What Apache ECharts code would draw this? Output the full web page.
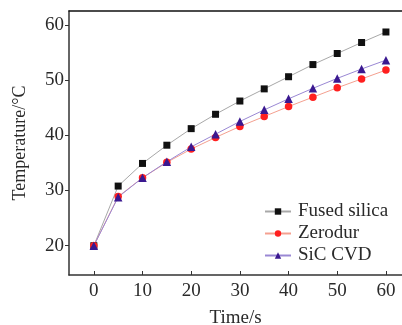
<!DOCTYPE html>
<html><head><meta charset="utf-8">
<script src="https://cdn.jsdelivr.net/npm/echarts@6/dist/echarts.min.js"></script>
<style>html,body{margin:0;padding:0;background:#fff}#c{width:402px;height:325px}</style>
</head><body><div id="c"></div>
<script>
const times = [0,5,10,15,20,25,30,35,40,45,50,55,60];
const fusedSilica = [20,30.8,34.9,38.2,41.2,43.8,46.2,48.4,50.6,52.8,54.8,56.8,58.7];
const zerodur = [20,28.9,32.3,35.1,37.5,39.6,41.6,43.4,45.2,46.9,48.6,50.2,51.8];
const sicCvd = [20,28.8,32.3,35.2,37.9,40.2,42.5,44.6,46.6,48.5,50.3,52.0,53.6];
const xTicks = [0,10,20,30,40,50,60];
const yTicks = [20,30,40,50,60];
const seriesNames = ['Fused silica','Zerodur','SiC CVD'];

const font = 'Liberation Serif';
const txt = '#2a2a2a';
function pairs(v){ return times.map((t,i)=>[t,v[i]]); }
const chart = echarts.init(document.getElementById('c'));
chart.setOption({
  animation:false,
  backgroundColor:'#fff',
  grid:{left:69,top:11,right:0,bottom:50,outerBoundsMode:'none',containLabel:false},
  legend:{
    orient:'vertical', left:264, top:202, itemGap:3, padding:0,
    itemWidth:26, itemHeight:8,
    textStyle:{fontFamily:font,fontSize:19,color:txt,padding:[0,0,0,2]},
    data:seriesNames
  },
  xAxis:[{
    type:'value', min:-5.1, max:63.3,
    name:'Time/s', nameLocation:'middle', nameGap:34,
    nameTextStyle:{fontFamily:font,fontSize:19,color:txt},
    axisLine:{show:true,onZero:false,lineStyle:{color:'#333',width:1.5}},
    axisTick:{show:true,inside:true,length:4,customValues:xTicks,lineStyle:{color:'#333'}},
    axisLabel:{customValues:xTicks,fontFamily:font,fontSize:19,color:txt,margin:7},
    splitLine:{show:false}
  },{
    type:'value', position:'top', min:-5.1, max:63.3,
    axisLine:{show:true,onZero:false,lineStyle:{color:'#111',width:1.5}},
    axisTick:{show:false}, axisLabel:{show:false}, splitLine:{show:false}
  }],
  yAxis:{
    type:'value', min:14.7, max:62.5,
    name:'Temperature/°C', nameLocation:'middle', nameGap:40, nameRotate:90,
    nameTextStyle:{fontFamily:font,fontSize:18,color:txt},
    axisLine:{show:true,onZero:false,lineStyle:{color:'#333',width:1.5}},
    axisTick:{show:true,inside:false,length:4,customValues:yTicks,lineStyle:{color:'#333'}},
    axisLabel:{customValues:yTicks,fontFamily:font,fontSize:19,color:txt,margin:5},
    splitLine:{show:false}
  },
  series:[
    {name:seriesNames[0],type:'line',data:pairs(fusedSilica),symbol:'rect',symbolSize:7,
     itemStyle:{color:'#111'},lineStyle:{color:'#a8a8a8',width:1}},
    {name:seriesNames[1],type:'line',data:pairs(zerodur),symbol:'circle',symbolSize:7.5,
     itemStyle:{color:'#ff1f1f'},lineStyle:{color:'#f4a090',width:1}},
    {name:seriesNames[2],type:'line',data:pairs(sicCvd),symbol:'triangle',symbolSize:8.5,
     itemStyle:{color:'#3a1890'},lineStyle:{color:'#9a88d4',width:1}}
  ]
});
</script></body></html>
